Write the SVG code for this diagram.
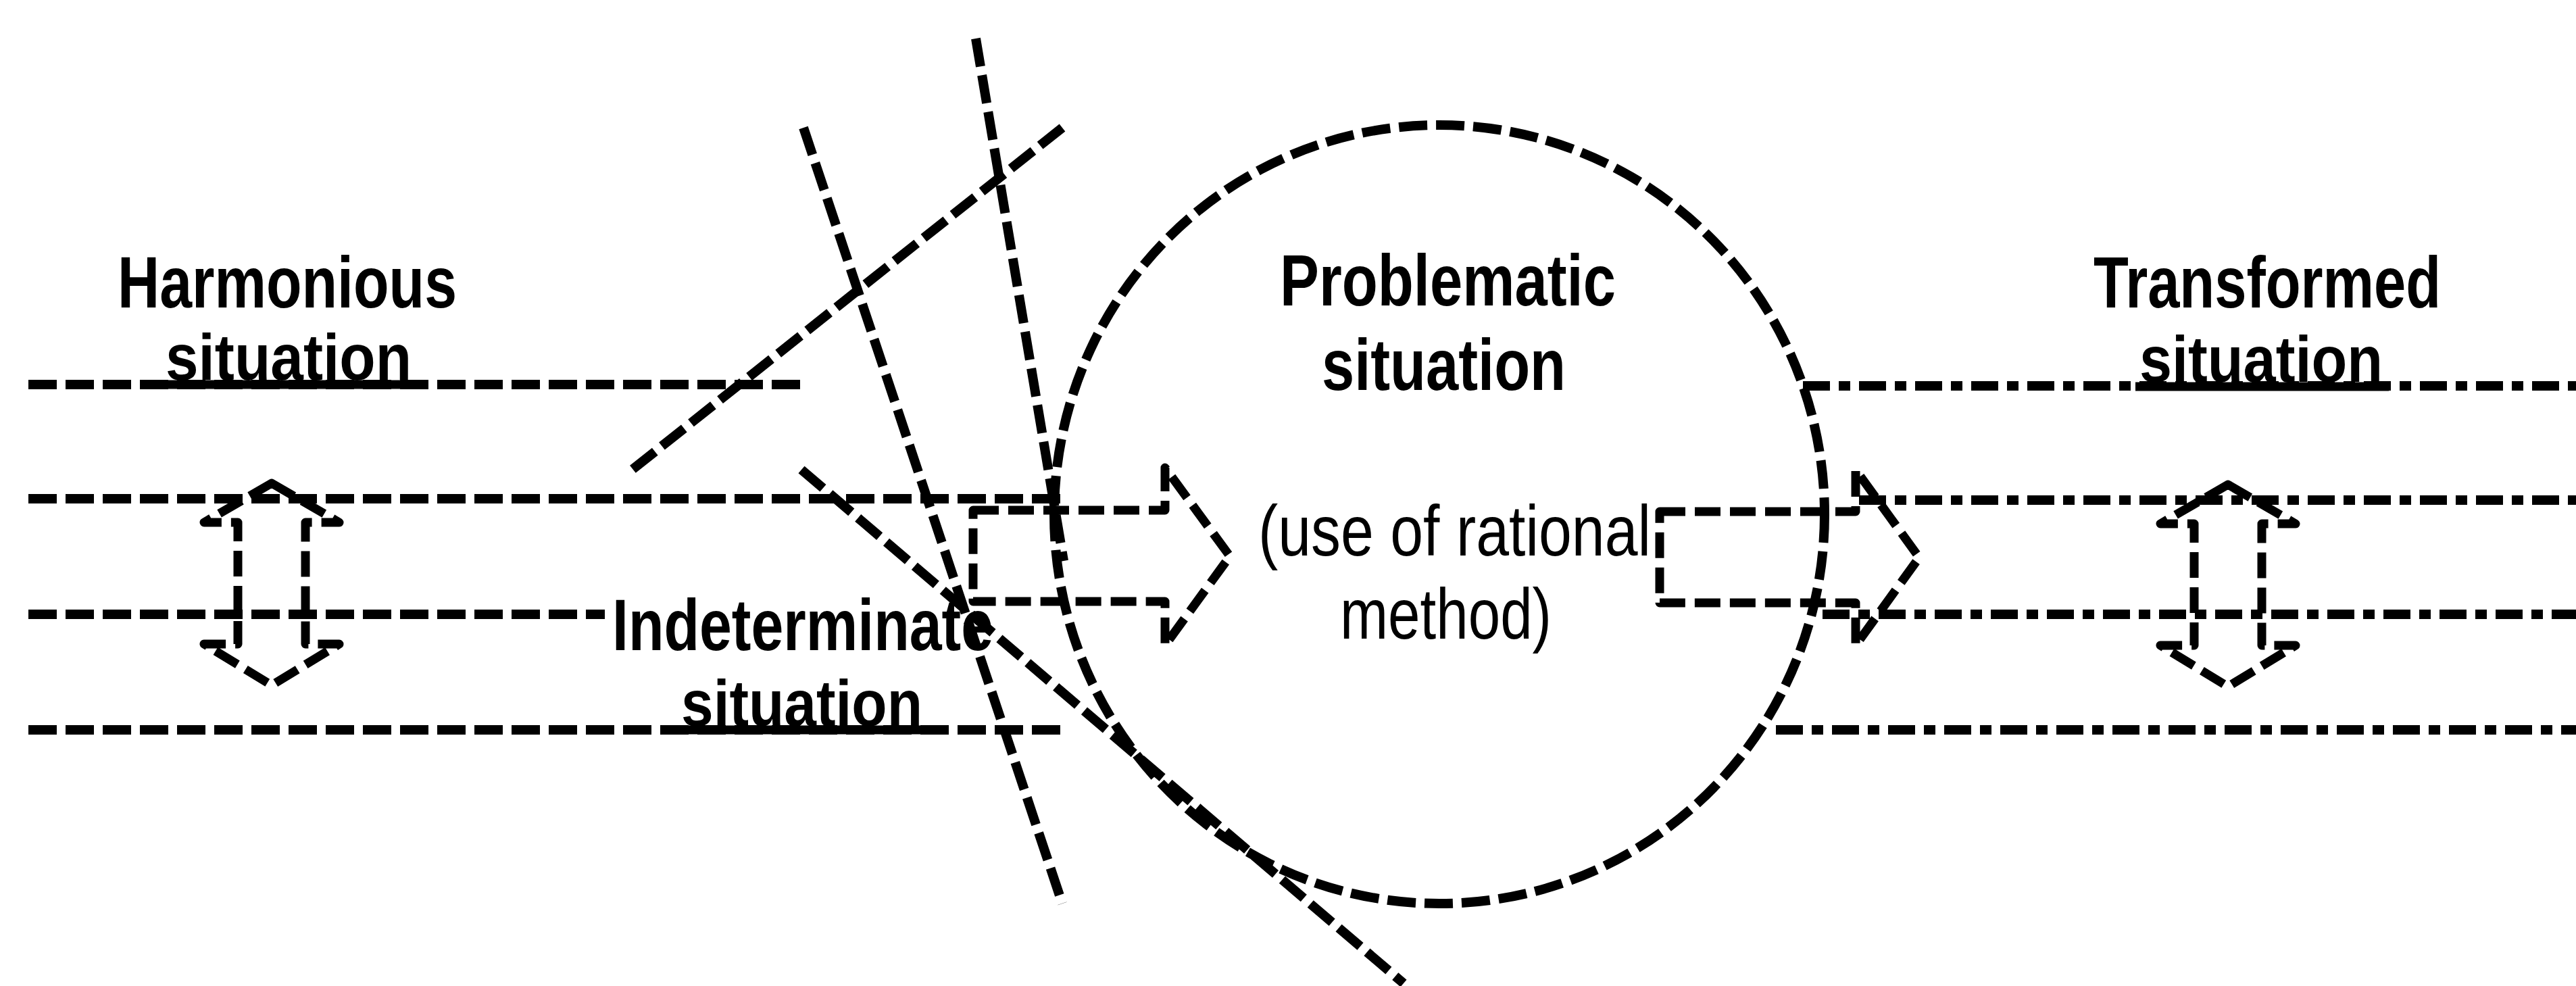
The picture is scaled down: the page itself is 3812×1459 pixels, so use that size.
<svg xmlns="http://www.w3.org/2000/svg" width="3812" height="1459" viewBox="0 0 3812 1459">
  <style>
    .dash { fill: none; stroke: #000; stroke-width: 14; stroke-dasharray: 42 13; }
    .dashdot { fill: none; stroke: #000; stroke-width: 14; stroke-dasharray: 40 13 17 13; }
    .outline { fill: none; stroke: #000; stroke-width: 13; stroke-dasharray: 38 14; stroke-linejoin: round; }
    .rule { stroke: #000; stroke-width: 13; }
    .bold { font-family: "Liberation Sans Narrow", "Liberation Sans", Arial, sans-serif; font-weight: bold; font-size: 108px; fill: #000; }
    .under { font-size: 96px; }
    .plain { font-family: "Liberation Sans Narrow", "Liberation Sans", Arial, sans-serif; font-size: 106px; fill: #000; }
  </style>
  <defs>
    <path id="updown" d="M402,715 L502,773 L452,773 L452,953 L502,953 L402,1014 L302,953 L352,953 L352,773 L302,773 Z"/>
  </defs>
  <rect width="3812" height="1459" fill="#fff"/>

  <!-- connectors: situation bands and crossing lines -->
  <g id="connectors">
    <!-- left band (dashed) -->
    <line class="dash" x1="42" y1="569" x2="1190" y2="569"/>
    <line class="dash" x1="42" y1="738" x2="1572" y2="738"/>
    <line class="dash" x1="42" y1="909" x2="895" y2="909"/>
    <line class="dash" x1="42" y1="1080" x2="1575" y2="1080"/>
    <!-- right band (dash-dot) -->
    <line class="dashdot" x1="2668" y1="571" x2="3812" y2="571"/>
    <line class="dashdot" x1="2751" y1="740" x2="3812" y2="740"/>
    <line class="dashdot" x1="2697" y1="909" x2="3812" y2="909"/>
    <line class="dashdot" x1="2628" y1="1080" x2="3812" y2="1080"/>
    <!-- crossing lines of the indeterminate region -->
    <line class="dash" x1="1189" y1="189" x2="1572" y2="1337"/>
    <line class="dash" x1="1444" y1="57" x2="1574" y2="830"/>
    <line class="dash" x1="1572" y1="189" x2="933" y2="697"/>
    <line class="dash" x1="1186" y1="695" x2="2077" y2="1455"/>
  </g>

  <g id="harmonious">
    <text class="bold" x="174" y="455" textLength="502" lengthAdjust="spacingAndGlyphs">Harmonious</text>
    <text class="bold under" x="245" y="562" textLength="364" lengthAdjust="spacingAndGlyphs">situation</text>
    <line class="rule" x1="238" y1="569" x2="615" y2="569"/>
    <use href="#updown" class="outline"/>
  </g>

  <g id="indeterminate">
    <text class="bold" x="906" y="962" textLength="564" lengthAdjust="spacingAndGlyphs">Indeterminate</text>
    <text class="bold under" x="1008" y="1074" textLength="357" lengthAdjust="spacingAndGlyphs">situation</text>
    <line class="rule" x1="1000" y1="1080" x2="1372" y2="1080"/>
  </g>

  <g id="problematic">
    <ellipse class="dash" cx="2130" cy="761" rx="570" ry="576"/>
    <text class="bold" x="1894" y="452" textLength="497" lengthAdjust="spacingAndGlyphs">Problematic</text>
    <text class="bold" x="1956" y="577" textLength="361" lengthAdjust="spacingAndGlyphs">situation</text>
    <text class="plain" x="1862" y="822" textLength="581" lengthAdjust="spacingAndGlyphs">(use of rational</text>
    <text class="plain" x="1983" y="945" textLength="313" lengthAdjust="spacingAndGlyphs">method)</text>
  </g>

  <g id="transformed">
    <text class="bold" x="3098" y="455" textLength="514" lengthAdjust="spacingAndGlyphs">Transformed</text>
    <text class="bold under" x="3166" y="565" textLength="360" lengthAdjust="spacingAndGlyphs">situation</text>
    <line class="rule" x1="3160" y1="572" x2="3535" y2="572"/>
    <use href="#updown" class="outline" transform="translate(2895,2)"/>
  </g>

  <g id="flow-arrows">
    <path id="arrow-in" class="outline" d="M1440,755 L1724,755 L1724,692 L1820,823 L1724,955 L1724,890 L1440,890 Z"/>
    <path id="arrow-out" class="outline" d="M2456,757 L2746,757 L2746,695 L2840,825 L2746,955 L2746,892 L2456,892 Z"/>
  </g>
</svg>
